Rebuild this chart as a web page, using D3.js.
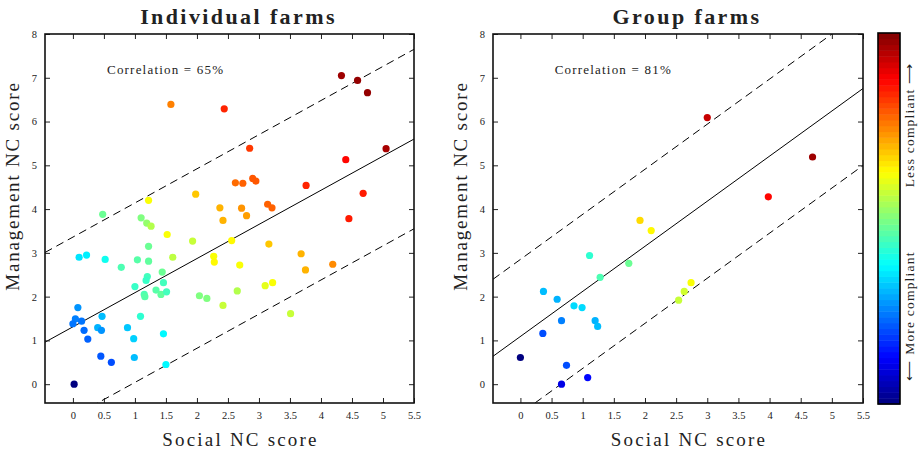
<!DOCTYPE html>
<html><head><meta charset="utf-8">
<script src="https://cdn.jsdelivr.net/npm/d3@7"></script>
<style>body{margin:0;background:#fff}text{font-family:"Liberation Serif","Times New Roman",Times,serif;fill:#222}</style>
</head><body><svg id="c" width="918" height="450"></svg>
<script>
// ---- data ----
const indivSocial = [0.02,0.08,0.04,0.00,0.14,0.18,0.24,0.47,0.40,0.46,0.45,0.62,0.10,0.22,0.52,0.48,0.78,0.88,0.98,0.99,1.00,1.09,1.10,1.19,1.26,1.22,1.04,1.22,1.22,1.20,1.18,1.15,1.16,1.34,1.42,1.51,1.46,1.44,1.46,1.50,1.52,1.61,1.93,2.04,2.16,2.27,2.28,2.42,2.37,2.42,2.56,2.69,2.65,2.72,2.80,1.58,2.44,2.85,2.62,2.74,1.98,4.33,4.59,4.75,5.05,4.40,2.90,2.95,3.76,4.68,3.14,3.21,4.45,3.16,3.68,3.75,4.19,3.10,3.22,3.51];
const indivMgmt   = [0.00,1.75,1.49,1.38,1.44,1.23,1.03,1.55,1.29,1.23,0.64,0.50,2.90,2.95,2.85,3.88,2.67,1.29,1.04,0.61,2.23,1.55,3.80,3.68,3.61,4.20,2.84,3.15,2.81,2.46,2.37,2.05,2.00,2.15,2.05,2.11,2.32,2.56,1.15,0.45,3.42,2.90,3.27,2.02,1.96,2.92,2.79,1.80,4.03,3.74,3.28,2.72,2.13,4.02,3.85,6.39,6.29,5.39,4.60,4.59,4.34,7.05,6.94,6.66,5.38,5.13,4.70,4.64,4.54,4.36,4.11,4.03,3.78,3.20,2.98,2.61,2.74,2.25,2.32,1.61];
const indivColour = [0.00,0.27,0.25,0.24,0.24,0.23,0.22,0.31,0.30,0.27,0.21,0.20,0.35,0.36,0.39,0.48,0.45,0.32,0.33,0.31,0.43,0.42,0.50,0.52,0.55,0.62,0.46,0.48,0.47,0.44,0.43,0.45,0.46,0.46,0.47,0.44,0.44,0.48,0.37,0.37,0.62,0.56,0.57,0.50,0.50,0.62,0.63,0.57,0.70,0.70,0.63,0.62,0.55,0.73,0.72,0.75,0.84,0.82,0.77,0.78,0.68,0.97,0.98,0.98,0.96,0.87,0.79,0.79,0.84,0.85,0.78,0.78,0.85,0.68,0.70,0.70,0.74,0.60,0.62,0.57];

const groupSocial = [0.00,0.66,1.08,0.74,0.36,0.66,0.37,0.59,0.86,0.99,1.20,1.24,1.11,1.28,1.74,1.92,2.10,2.54,2.63,2.74,3.00,4.69,3.98];
const groupMgmt   = [0.61,0.00,0.15,0.43,1.16,1.45,2.12,1.94,1.79,1.75,1.45,1.32,2.94,2.44,2.76,3.74,3.51,1.92,2.12,2.32,6.09,5.19,4.28];
const groupColour = [0.00,0.10,0.13,0.20,0.20,0.25,0.31,0.30,0.34,0.34,0.30,0.31,0.42,0.45,0.48,0.66,0.63,0.57,0.58,0.62,0.93,0.97,0.87];

const panelTitles = ["Individual farms","Group farms"];
const correlations = ["Correlation = 65%","Correlation = 81%"];
const fitSlope = [0.78,1.03];
const fitIntercept = [1.31,1.09];
const fitBand = [2.05,1.76];
const xTicks = [0,0.5,1,1.5,2,2.5,3,3.5,4,4.5,5,5.5];
const xTickLabels = ["0","0.5","1","1.5","2","2.5","3","3.5","4","4.5","5","5.5"];
const yTicks = [0,1,2,3,4,5,6,7,8];

// ---- drawing ----
const SERIF = '"Liberation Serif","Times New Roman",Times,serif';
function jet(t){
  const c=v=>Math.max(0,Math.min(1,v));
  const r=c(1.5-Math.abs(4*t-3)), g=c(1.5-Math.abs(4*t-2)), b=c(1.5-Math.abs(4*t-1));
  return d3.rgb(r*255,g*255,b*255).toString();
}
const colour = d3.scaleSequential(jet).domain([0,1]);
const svg = d3.select("#c");

const panels = [
  {x0:45,x1:414,xmin:-0.45,sx:indivSocial,sy:indivMgmt,sc:indivColour},
  {x0:493,x1:863,xmin:-0.44,sx:groupSocial,sy:groupMgmt,sc:groupColour}
];
const y0=34,y1=403;

panels.forEach((p,i)=>{
  const x=d3.scaleLinear().domain([p.xmin,5.5]).range([p.x0,p.x1]);
  const y=d3.scaleLinear().domain([-0.43,8]).range([y1,y0]);
  const g=svg.append("g");
  const cid="clip"+i;
  g.append("clipPath").attr("id",cid).append("rect").attr("x",p.x0).attr("y",y0).attr("width",p.x1-p.x0).attr("height",y1-y0);

  const line=d3.line().x(d=>x(d[0])).y(d=>y(d[1]));
  const xs=[p.xmin,5.5];
  [[0,null],[fitBand[i],"8,5"],[-fitBand[i],"8,5"]].forEach(([off,dash])=>{
    g.append("path").attr("clip-path",`url(#${cid})`)
      .attr("d",line(xs.map(v=>[v,fitIntercept[i]+fitSlope[i]*v+off])))
      .attr("fill","none").attr("stroke","#000").attr("stroke-width",1)
      .attr("stroke-dasharray",dash);
  });

  g.append("g").selectAll("circle").data(p.sx.map((v,k)=>({x:v,y:p.sy[k],c:p.sc[k]})))
    .join("circle").attr("cx",d=>x(d.x)).attr("cy",d=>y(d.y)).attr("r",3.6)
    .attr("fill",d=>colour(d.c));

  const ax=(gen,tr)=>g.append("g").attr("transform",tr).call(gen);
  const bottom=ax(d3.axisBottom(x).tickValues(xTicks).tickFormat((d,k)=>xTickLabels[k]).tickSizeInner(-5).tickSizeOuter(0).tickPadding(9),`translate(0,${y1})`);
  const top=ax(d3.axisTop(x).tickValues(xTicks).tickFormat("").tickSizeInner(-5).tickSizeOuter(0),`translate(0,${y0})`);
  const left=ax(d3.axisLeft(y).tickValues(yTicks).tickFormat(d3.format("d")).tickSizeInner(-5).tickSizeOuter(0).tickPadding(8),`translate(${p.x0},0)`);
  const right=ax(d3.axisRight(y).tickValues(yTicks).tickFormat("").tickSizeInner(-5).tickSizeOuter(0),`translate(${p.x1},0)`);
  [bottom,top,left,right].forEach(a=>{
    a.attr("font-family",SERIF);
    a.select(".domain").remove();
    a.selectAll("line").attr("stroke","#222");
    a.selectAll("text").attr("font-family",SERIF).attr("font-size",10.5).attr("fill","#333");
  });
  g.append("rect").attr("x",p.x0).attr("y",y0).attr("width",p.x1-p.x0).attr("height",y1-y0)
    .attr("fill","none").attr("stroke","#111").attr("stroke-width",1.6);

  const cx=(p.x0+p.x1)/2;
  g.append("text").attr("x",cx+9).attr("y",24).attr("text-anchor","middle").attr("font-family",SERIF)
    .attr("font-size",22).attr("font-weight","bold").attr("letter-spacing",2.4).text(panelTitles[i]);
  g.append("text").attr("x",cx+11).attr("y",446).attr("text-anchor","middle").attr("font-family",SERIF)
    .attr("font-size",19).attr("letter-spacing",2.2).text("Social NC score");
  g.append("text").attr("transform",`translate(${p.x0-26},186) rotate(-90)`).attr("text-anchor","middle").attr("font-family",SERIF)
    .attr("font-size",19).attr("letter-spacing",1.8).text("Management NC score");
  g.append("text").attr("x",x(0.55)).attr("y",74).attr("text-anchor","start").attr("font-family",SERIF)
    .attr("font-size",13).attr("letter-spacing",1.2).text(correlations[i]);
});

const cb={x:878,w:22,top:33,bot:404};
const cy=d3.scaleLinear().domain([0,1]).range([cb.bot,cb.top]);
const nb=64;
svg.append("g").selectAll("rect").data(d3.range(nb)).join("rect")
  .attr("x",cb.x).attr("width",cb.w)
  .attr("y",k=>cy((k+1)/nb)).attr("height",k=>cy(k/nb)-cy((k+1)/nb)+0.5)
  .attr("fill",k=>colour((k+0.5)/nb));
svg.append("rect").attr("x",cb.x).attr("y",cb.top).attr("width",cb.w).attr("height",cb.bot-cb.top)
  .attr("fill","none").attr("stroke","#000").attr("stroke-width",1.6);
svg.append("text").attr("transform","translate(911,125) rotate(-90)").attr("text-anchor","middle").attr("font-family",SERIF)
  .attr("font-size",13.5).attr("letter-spacing",1.2).attr("dominant-baseline","middle").text("Less compliant \u27F6");
svg.append("text").attr("transform","translate(911,316) rotate(-90)").attr("text-anchor","middle").attr("font-family",SERIF)
  .attr("font-size",13.5).attr("letter-spacing",1.2).attr("dominant-baseline","middle").text("\u27F5 More compliant");
</script></body></html>
